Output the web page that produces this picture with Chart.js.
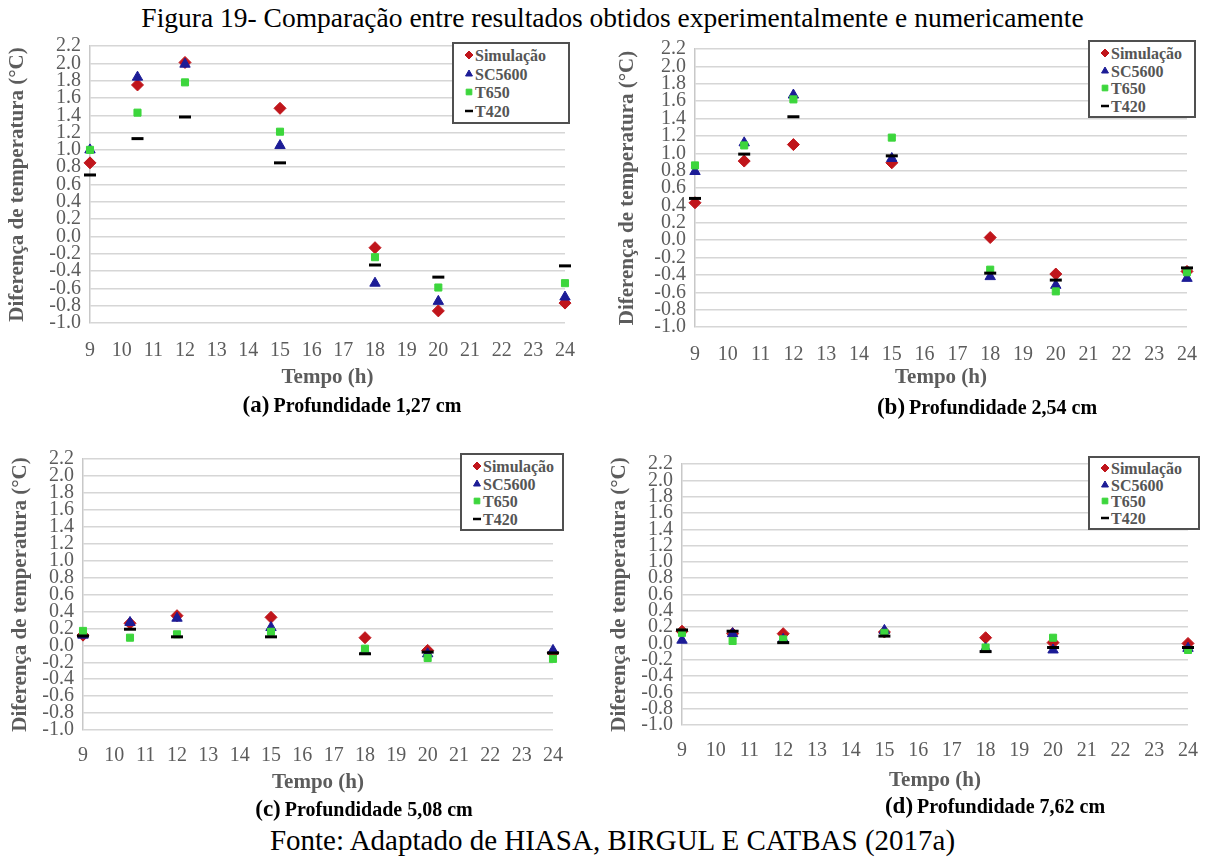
<!DOCTYPE html>
<html>
<head>
<meta charset="utf-8">
<script src="https://cdn.jsdelivr.net/npm/chart.js@4.4.1/dist/chart.umd.min.js"></script>
<style>
  html, body { margin: 0; padding: 0; background: #fff; }
  body { width: 1205px; height: 857px; position: relative; overflow: hidden; font-family: "Liberation Serif", "DejaVu Serif", serif; }
  .abs { position: absolute; }
  .title { left: 0; width: 1225px; top: 2px; text-align: center; font-size: 27.5px; color: #000; white-space: nowrap; }
  .fonte { left: 0; width: 1225px; top: 824px; text-align: center; font-size: 29px; color: #000; white-space: nowrap; }
  .cap { font-weight: bold; color: #000; white-space: nowrap; transform: translate(-50%, -50%); }
  .cap .lt { font-size: 23px; }
  .cap .rt { font-size: 20px; }
  .legend { background: #fff; border: 2px solid #505050; box-sizing: border-box; padding: 3px 0 0 10px; }
  .legend .row { font-size: 16px; font-weight: bold; color: #555555; white-space: nowrap; }
  .legend canvas { vertical-align: middle; margin-right: 1px; position: relative; top: -2px; }
</style>
</head>
<body>
<div class="abs title">Figura 19- Comparação entre resultados obtidos experimentalmente e numericamente</div>
<div class="abs fonte">Fonte: Adaptado de HIASA, BIRGUL E CATBAS (2017a)</div>

<script>
// ---------------- DATA ----------------
const hours = [9, 10.5, 12, 15, 18, 20, 24];
const seriesNames = ['Simulação', 'SC5600', 'T650', 'T420'];
const yTickMin = -1.0;
const yTickMax = 2.2;
const yTickStep = 0.2;
const xTickMin = 9;
const xTickMax = 24;
const yAxisTitle = 'Diferença de temperatura (°C)';
const xAxisTitle = 'Tempo (h)';

// (a) Profundidade 1,27 cm
const simA   = [0.85, 1.75, 2.01, 1.48, -0.13, -0.86, -0.77];
const scA    = [1.00, 1.84, 1.99, 1.05, -0.54, -0.75, -0.70];
const t650A  = [1.00, 1.43, 1.78, 1.21, -0.24, -0.59, -0.54];
const t420A  = [0.71, 1.13, 1.38, 0.85, -0.33, -0.47, -0.34];

// (b) Profundidade 2,54 cm
const simB   = [0.43, 0.91, 1.10, 0.89, 0.03, -0.39, -0.36];
const scB    = [0.79, 1.12, 1.67, 0.94, -0.42, -0.52, -0.44];
const t650B  = [0.86, 1.09, 1.62, 1.18, -0.34, -0.59, -0.37];
const t420B  = [0.48, 0.99, 1.42, 0.97, -0.38, -0.46, -0.32];

// (c) Profundidade 5,08 cm
const simC   = [0.12, 0.26, 0.35, 0.33, 0.09, -0.06, -0.09];
const scC    = [0.12, 0.27, 0.32, 0.21, -0.07, -0.10, -0.06];
const t650C  = [0.17, 0.09, 0.13, 0.16, -0.04, -0.15, -0.16];
const t420C  = [0.11, 0.19, 0.10, 0.10, -0.10, -0.08, -0.09];

// (d) Profundidade 7,62 cm
const simD   = [0.15, 0.12, 0.12, 0.14, 0.07, 0.01, 0.00];
const scD    = [0.04, 0.12, 0.05, 0.16, -0.06, -0.08, -0.06];
const t650D  = [0.13, 0.03, 0.05, 0.13, -0.05, 0.07, -0.08];
const t420D  = [0.165, 0.15, 0.01, 0.09, -0.10, -0.05, -0.05];

const captionLetters = ['(a)', '(b)', '(c)', '(d)'];
const captionTexts = ['Profundidade 1,27 cm', 'Profundidade 2,54 cm', 'Profundidade 5,08 cm', 'Profundidade 7,62 cm'];

// ---------------- STYLE ----------------
const seriesStyle = [
  { pointStyle: 'rectRot',  color: '#C0151B', radius: 6,   border: 1 },
  { pointStyle: 'triangle', color: '#1C1C96', radius: 6,   border: 1 },
  { pointStyle: 'rect',     color: '#3CD63C', radius: 5,   border: 1 },
  { pointStyle: 'line',     color: '#000000', radius: 6,   border: 3 }
];

const panels = [
  { series: [simA, scA, t650A, t420A],
    canvas: { x: 0,   y: 36,  w: 585, h: 360 }, area: { l: 90,  r: 565,  t: 46,  b: 323 },
    ytitlePad: 5, xtitlePad: 6, tickPadX: 16,
    legend: { x: 452, y: 42, w: 118, h: 82 }, cap: { x: 352, y: 405 } },
  { series: [simB, scB, t650B, t420B],
    canvas: { x: 605, y: 36,  w: 600, h: 360 }, area: { l: 695, r: 1187, t: 49,  b: 327 },
    ytitlePad: 10, xtitlePad: 6, tickPadX: 16,
    legend: { x: 1088, y: 40, w: 108, h: 78 }, cap: { x: 987, y: 407 } },
  { series: [simC, scC, t650C, t420C],
    canvas: { x: 0,   y: 448, w: 585, h: 355 }, area: { l: 83,  r: 553,  t: 459, b: 730 },
    ytitlePad: 8, xtitlePad: 8, tickPadX: 14,
    legend: { x: 460, y: 453, w: 104, h: 78 }, cap: { x: 364, y: 809 } },
  { series: [simD, scD, t650D, t420D],
    canvas: { x: 600, y: 448, w: 605, h: 355 }, area: { l: 682, r: 1188, t: 464, b: 725 },
    ytitlePad: 7, xtitlePad: 10, tickPadX: 14,
    legend: { x: 1088, y: 456, w: 112, h: 74 }, cap: { x: 995, y: 806 } }
];

const FONT = '"Liberation Serif", "Times New Roman", serif';
const GREY = '#5c5c5c';

panels.forEach((p, idx) => {
  const holder = document.createElement('div');
  holder.className = 'abs';
  holder.style.left = p.canvas.x + 'px';
  holder.style.top = p.canvas.y + 'px';
  holder.style.width = p.canvas.w + 'px';
  holder.style.height = p.canvas.h + 'px';
  const cv = document.createElement('canvas');
  cv.width = p.canvas.w; cv.height = p.canvas.h;
  cv.style.width = p.canvas.w + 'px'; cv.style.height = p.canvas.h + 'px';
  holder.appendChild(cv);
  document.body.appendChild(holder);

  const yWidth = p.area.l - p.canvas.x;
  const xHeight = p.canvas.y + p.canvas.h - p.area.b;
  const padTop = p.area.t - p.canvas.y;
  const padRight = p.canvas.x + p.canvas.w - p.area.r;

  // later series drawn on top (like the original spreadsheet)
  const datasets = seriesNames.map((name, si) => {
    const st = seriesStyle[si];
    return {
      label: name,
      data: hours.map((h, i) => ({ x: h, y: p.series[si][i] })),
      pointStyle: st.pointStyle,
      backgroundColor: st.color,
      borderColor: st.color,
      pointRadius: st.radius,
      pointBorderWidth: st.border,
      showLine: false,
      clip: false,
      order: seriesNames.length - si
    };
  });

  new Chart(cv, {
    type: 'scatter',
    data: { datasets },
    options: {
      responsive: false,
      animation: false,
      events: [],
      layout: { padding: { top: padTop, right: padRight, left: 0, bottom: 0 } },
      plugins: { legend: { display: false }, tooltip: { enabled: false } },
      scales: {
        x: {
          type: 'linear', min: xTickMin, max: xTickMax,
          afterFit: (s) => { s.height = xHeight; s.paddingLeft = 0; s.paddingRight = 0; s.paddingTop = 0; s.paddingBottom = 0; },
          grid: { display: false, drawTicks: false },
          border: { display: false },
          ticks: { stepSize: 1, padding: p.tickPadX, color: GREY, maxRotation: 0, autoSkip: false,
                   font: { family: FONT, size: 20 } },
          title: { display: true, text: xAxisTitle, color: GREY, padding: { top: 0, bottom: p.xtitlePad },
                   font: { family: FONT, size: 21, weight: 'bold' } }
        },
        y: {
          type: 'linear', min: yTickMin, max: yTickMax,
          afterFit: (s) => { s.width = yWidth; s.paddingTop = 0; s.paddingBottom = 0; s.paddingLeft = 0; s.paddingRight = 0; },
          grid: { color: '#d6d6d6', lineWidth: 1.5, drawTicks: false },
          border: { display: true, color: '#c8c8c8', width: 1.5 },
          ticks: { stepSize: yTickStep, padding: 9, color: GREY, autoSkip: false,
                   font: { family: FONT, size: 20 },
                   callback: (v) => Number(v).toFixed(1) },
          title: { display: true, text: yAxisTitle, color: GREY, padding: { top: p.ytitlePad, bottom: 0 },
                   font: { family: FONT, size: 21, weight: 'bold' } }
        }
      }
    }
  });

  // legend box (HTML, built from series names)
  const lg = document.createElement('div');
  lg.className = 'abs legend';
  lg.style.left = p.legend.x + 'px';
  lg.style.top = p.legend.y + 'px';
  lg.style.width = p.legend.w + 'px';
  lg.style.height = p.legend.h + 'px';
  const rowH = (p.legend.h - 8) / 4;
  seriesNames.forEach((name, si) => {
    const row = document.createElement('div');
    row.className = 'row';
    row.style.height = rowH + 'px';
    row.style.lineHeight = rowH + 'px';
    const st = seriesStyle[si];
    const m = document.createElement('canvas');
    m.width = 10; m.height = 10;
    const ctx = m.getContext('2d');
    ctx.fillStyle = st.color; ctx.strokeStyle = st.color;
    ctx.lineWidth = st.pointStyle === 'line' ? 2.5 : 1;
    Chart.helpers.drawPoint(ctx, { pointStyle: st.pointStyle, radius: 4, rotation: 0, borderWidth: ctx.lineWidth }, 5, 5);
    row.appendChild(m);
    row.appendChild(document.createTextNode(name));
    lg.appendChild(row);
  });
  document.body.appendChild(lg);

  const cap = document.createElement('div');
  cap.className = 'abs cap';
  cap.style.left = p.cap.x + 'px';
  cap.style.top = p.cap.y + 'px';
  cap.innerHTML = '<span class="lt"></span> <span class="rt"></span>';
  cap.querySelector('.lt').textContent = captionLetters[idx];
  cap.querySelector('.rt').textContent = captionTexts[idx];
  document.body.appendChild(cap);
});
</script>
</body>
</html>
